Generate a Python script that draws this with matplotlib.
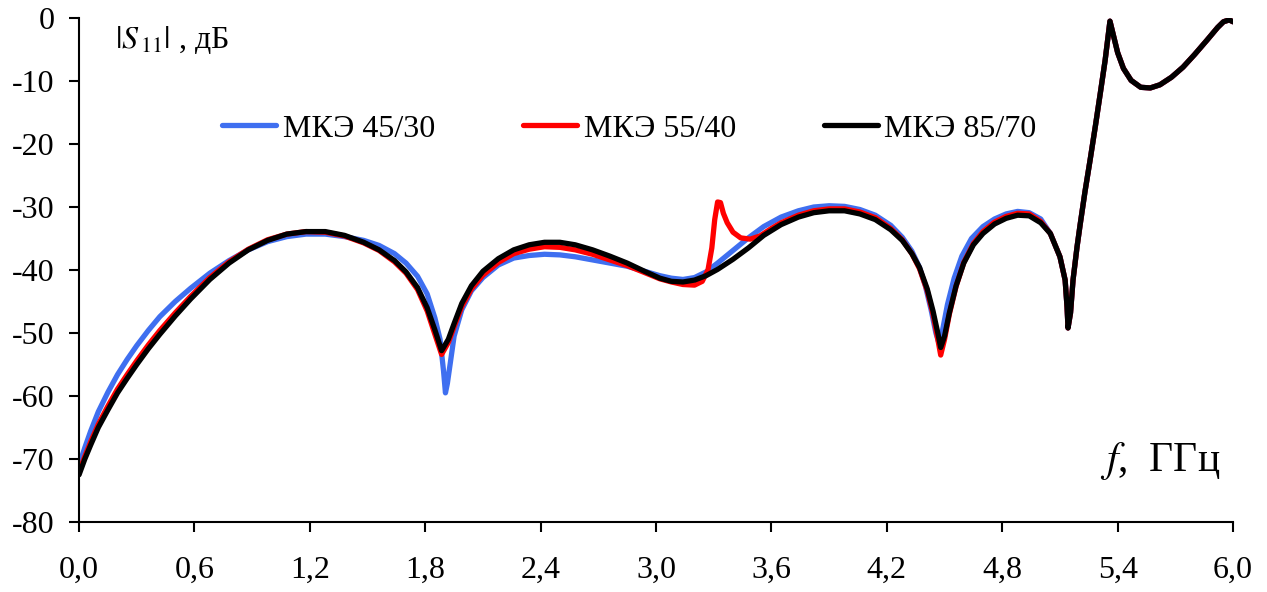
import numpy as np
import matplotlib
matplotlib.use('Agg')
import matplotlib.pyplot as plt
from matplotlib.ticker import FuncFormatter

plt.rcParams['font.family'] = ['Liberation Serif', 'DejaVu Serif']
plt.rcParams['mathtext.fontset'] = 'stix'

# общий участок 5,05...6,0 ГГц (кривые совпадают)
f_tail = [5.05, 5.1, 5.127, 5.137, 5.142, 5.155, 5.168, 5.189, 5.205, 5.23, 5.257, 5.285,
          5.31, 5.335, 5.36, 5.38, 5.40, 5.43, 5.47, 5.52, 5.57, 5.62, 5.68, 5.74, 5.80,
          5.865, 5.92, 5.95, 5.98, 6.0]
s_tail = [-34.2, -37.9, -41.6, -45.9, -49.2, -46.8, -41.6, -36.3, -32.8, -27.6, -22.5, -17.0,
          -11.9, -6.7, -0.5, -3.0, -5.5, -8.0, -9.9, -11.0, -11.1, -10.6, -9.4, -7.8, -5.8,
          -3.5, -1.5, -0.6, -0.3, -0.6]

# МКЭ 85/70 (чёрная)
f_85 = [0.0, 0.03, 0.06, 0.1, 0.15, 0.2, 0.25, 0.3, 0.36, 0.42, 0.5, 0.58, 0.68, 0.78, 0.88,
        0.98, 1.08, 1.18, 1.28, 1.38, 1.48, 1.56, 1.64, 1.70, 1.76, 1.81, 1.85, 1.885, 1.92,
        1.95, 1.99, 2.04, 2.10, 2.18, 2.26, 2.34, 2.42, 2.5, 2.58, 2.67, 2.76, 2.85, 2.94,
        3.02, 3.08, 3.14, 3.20, 3.26, 3.32, 3.40, 3.48, 3.56, 3.65, 3.74, 3.82, 3.90, 3.98,
        4.06, 4.14, 4.22, 4.28, 4.33, 4.37, 4.41, 4.44, 4.465, 4.48, 4.50, 4.525, 4.56, 4.60,
        4.65, 4.70, 4.76, 4.82, 4.88, 4.94, 5.0] + f_tail
s_85 = [-72.5, -70.0, -67.8, -65.0, -62.2, -59.5, -57.2, -55.0, -52.5, -50.2, -47.3, -44.6,
        -41.5, -38.9, -36.8, -35.3, -34.3, -33.9, -33.9, -34.5, -35.6, -36.8, -38.5, -40.3,
        -42.8, -46.0, -49.5, -52.8, -51.0, -48.5, -45.3, -42.5, -40.2, -38.2, -36.8, -36.0,
        -35.6, -35.6, -36.0, -36.8, -37.8, -38.9, -40.2, -41.3, -41.8, -41.9, -41.6, -40.9,
        -39.9, -38.3, -36.5, -34.5, -32.8, -31.6, -30.9, -30.6, -30.6, -31.1, -32.0, -33.6,
        -35.3, -37.4, -39.6, -43.0, -46.5, -50.0, -52.3, -50.5, -46.8, -42.5, -38.9, -36.0,
        -34.2, -32.7, -31.8, -31.3, -31.4, -32.5] + s_tail

# МКЭ 55/40 (красная)
f_55 = [0.0, 0.03, 0.06, 0.1, 0.15, 0.2, 0.25, 0.3, 0.36, 0.42, 0.5, 0.58, 0.68, 0.78, 0.88,
        0.98, 1.08, 1.18, 1.28, 1.38, 1.48, 1.56, 1.64, 1.70, 1.76, 1.81, 1.85, 1.885, 1.92,
        1.95, 1.99, 2.04, 2.10, 2.18, 2.26, 2.34, 2.42, 2.5, 2.58, 2.67, 2.76, 2.85, 2.94,
        3.02, 3.08, 3.14, 3.20, 3.24, 3.27, 3.29, 3.305, 3.32, 3.335, 3.35, 3.37, 3.40, 3.44,
        3.49, 3.54, 3.60, 3.65, 3.74, 3.82, 3.90, 3.98, 4.06, 4.14, 4.22, 4.28, 4.33, 4.37,
        4.41, 4.44, 4.465, 4.48, 4.50, 4.525, 4.56, 4.60, 4.65, 4.70, 4.76, 4.82, 4.88, 4.94,
        5.0] + f_tail
s_55 = [-72.0, -69.6, -67.3, -64.5, -61.6, -58.9, -56.6, -54.4, -51.9, -49.6, -46.8, -44.2,
        -41.2, -38.7, -36.7, -35.2, -34.3, -33.9, -34.0, -34.6, -35.7, -36.9, -38.7, -40.5,
        -43.1, -46.5, -50.2, -53.4, -51.5, -49.0, -45.8, -43.0, -40.8, -38.8, -37.4, -36.7,
        -36.3, -36.4, -36.8, -37.5, -38.4, -39.3, -40.4, -41.4, -41.9, -42.3, -42.4, -41.8,
        -40.0, -36.5, -32.0, -29.2, -29.3, -31.0, -32.5, -34.0, -34.9, -35.1, -34.6, -33.4,
        -32.5, -31.3, -30.6, -30.3, -30.3, -30.8, -31.7, -33.4, -35.2, -37.4, -39.8, -43.3,
        -47.0, -51.0, -53.5, -51.0, -47.0, -42.6, -38.8, -35.8, -33.9, -32.4, -31.5, -31.0,
        -31.1, -32.3] + s_tail

# МКЭ 45/30 (синяя)
f_45 = [0.0, 0.03, 0.06, 0.1, 0.15, 0.2, 0.25, 0.3, 0.36, 0.42, 0.5, 0.58, 0.68, 0.78, 0.88,
        0.98, 1.08, 1.18, 1.28, 1.38, 1.48, 1.56, 1.64, 1.70, 1.76, 1.81, 1.85, 1.877, 1.895,
        1.905, 1.915, 1.93, 1.95, 1.99, 2.04, 2.10, 2.18, 2.26, 2.34, 2.42, 2.5, 2.58, 2.67,
        2.76, 2.85, 2.94, 3.02, 3.08, 3.14, 3.20, 3.26, 3.32, 3.40, 3.48, 3.56, 3.65, 3.74,
        3.82, 3.90, 3.98, 4.06, 4.14, 4.22, 4.28, 4.33, 4.37, 4.40, 4.43, 4.455, 4.47, 4.49,
        4.515, 4.55, 4.59, 4.64, 4.70, 4.76, 4.82, 4.88, 4.94, 5.0] + f_tail
s_45 = [-71.0, -68.2, -65.6, -62.5, -59.4, -56.6, -54.2, -52.0, -49.6, -47.4, -45.0, -42.9,
        -40.5, -38.5, -36.8, -35.5, -34.7, -34.3, -34.3, -34.7, -35.3, -36.1, -37.4, -38.9,
        -41.0, -43.8, -47.6, -51.0, -56.0, -59.5, -58.0, -54.8, -50.5, -46.3, -43.3, -41.2,
        -39.2, -38.1, -37.7, -37.5, -37.6, -37.9, -38.4, -38.9, -39.4, -40.2, -40.9, -41.3,
        -41.5, -41.2, -40.3, -38.9, -36.9, -34.9, -33.1, -31.6, -30.6, -30.0, -29.8, -29.9,
        -30.4, -31.3, -32.9, -34.8, -37.0, -39.6, -42.5, -46.3, -50.0, -51.5, -49.5, -45.5,
        -41.3, -37.8, -35.0, -33.1, -31.9, -31.1, -30.7, -30.9, -31.9] + s_tail

labels = ['МКЭ 45/30', 'МКЭ 55/40', 'МКЭ 85/70']
colors = ['#3f6ff0', '#ff0000', '#000000']
x_ticks = np.arange(0, 6.01, 0.6)
y_ticks = np.arange(-80, 1, 10)

fig = plt.figure(figsize=(12.67, 5.92), dpi=100)
ax = fig.add_axes([0.0624, 0.1182, 0.9108, 0.8514])

for f, s, c, lab in zip([f_45, f_55, f_85], [s_45, s_55, s_85], colors, labels):
    ax.plot(f, s, color=c, lw=3.8, label=lab, solid_joinstyle='round', solid_capstyle='round')

ax.set_xlim(0, 6.0)
ax.set_ylim(-80, 0)
ax.set_xticks(x_ticks)
ax.set_yticks(y_ticks)
ax.xaxis.set_major_formatter(FuncFormatter(lambda v, p: f'{v:.1f}'.replace('.', ',')))
ax.yaxis.set_major_formatter(FuncFormatter(lambda v, p: f'{v:.0f}'))
ax.tick_params(direction='out', length=7.5, width=1.5, labelsize=23)
ax.tick_params(axis='y', pad=10)
ax.tick_params(axis='x', pad=17)
for side in ['top', 'right']:
    ax.spines[side].set_visible(False)
for side in ['left', 'bottom']:
    ax.spines[side].set_linewidth(1.5)

ax.text(0.031, 0.956, r'$|S_{\,11}|$ , дБ', transform=ax.transAxes, fontsize=23, va='center')
ax.text(0.885, 0.122, r'$f$,  ГГц', transform=ax.transAxes, fontsize=30, va='center')

ax.legend(loc='center left', bbox_to_anchor=(0.124, 0.78), ncol=3, frameon=False,
          fontsize=23, handlelength=1.7, handletextpad=0.2, columnspacing=2.75,
          borderpad=0, borderaxespad=0)

fig.savefig('out.png', dpi=100)
